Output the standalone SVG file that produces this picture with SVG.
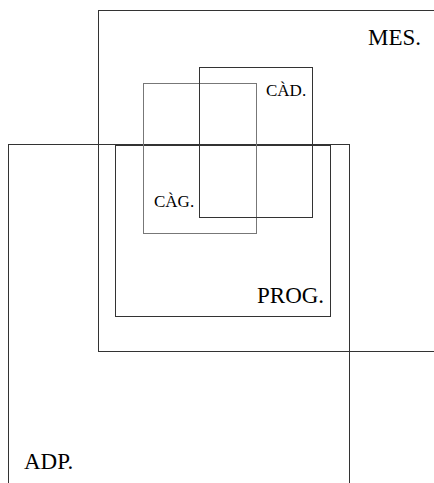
<svg xmlns="http://www.w3.org/2000/svg" width="434" height="483" viewBox="0 0 434 483">
<style>
rect{fill:none;stroke:#333;stroke-width:1}
.l{stroke:#777}
text{font-family:"Liberation Serif","Times New Roman",serif;fill:#000}
.b{font-size:23px}
.s{font-size:17px}
</style>
<rect width="434" height="483" fill="#fff" style="fill:#fff;stroke:none"/>
<g id="MES"><rect x="98.5" y="10.5" width="340" height="341"/><text class="b" x="368" y="45">MES.</text></g>
<g id="ADP"><rect x="8.5" y="144.5" width="341" height="350"/><text class="b" x="24" y="469">ADP.</text></g>
<g id="PROG"><rect x="115.5" y="145.5" width="215" height="171"/><text class="b" x="257" y="303">PROG.</text></g>
<g id="CAG"><rect class="l" x="143.5" y="83.5" width="113" height="150"/><text class="s" x="154" y="207">CÀG.</text></g>
<g id="CAD"><rect x="199.5" y="67.5" width="113" height="150"/><text class="s" x="266" y="96">CÀD.</text></g>
<g id="connectors"></g>
</svg>
